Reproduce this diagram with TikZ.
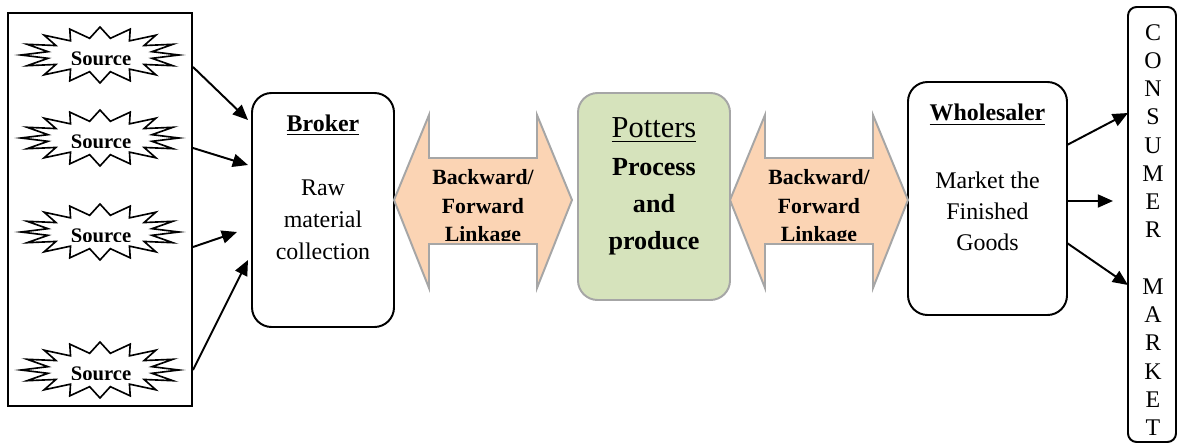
\documentclass[tikz,border=0pt]{standalone}
\usepackage{fontspec}
\setmainfont{Liberation Serif}
\usetikzlibrary{arrows.meta,positioning}

\definecolor{linkpeach}{RGB}{251,212,180}
\definecolor{potgreen}{RGB}{214,227,188}
\definecolor{rimgray}{RGB}{166,166,166}

\newcommand{\pxl}{0.46pt} % one pixel of the sketch

\tikzset{
  box/.style={draw, line width=0.9pt, rounded corners=9pt, fill=white},
  potbox/.style={draw=rimgray, line width=0.9pt, rounded corners=9pt, fill=potgreen},
  srctext/.style={inner sep=0pt, font=\bfseries\fontsize{9.5}{10}\selectfont},
  burst/.pic={
    \draw[line width=0.75pt] (79,0)
      \foreach \k [evaluate=\k as \rx using {mod(\k,2)==0 ? 79 : 53},
                   evaluate=\k as \ry using {mod(\k,2)==0 ? 28 : 17}] in {1,...,31}
        { -- ({\rx*cos(\k*11.25)},{\ry*sin(\k*11.25)}) } -- cycle;
  },
  linkarrow/.style={draw=rimgray, line width=0.9pt, fill=linkpeach},
  linktext/.style={align=center, font=\bfseries\fontsize{10}{13}\selectfont},
  arr/.style={-{Triangle[length=7pt,width=6pt]}, line width=0.9pt},
}

\begin{document}
\begin{tikzpicture}[x=\pxl,y=-\pxl]
  \useasboundingbox (0,0) rectangle (1177,444);

  %Sources
  \node[draw, line width=0.8pt, minimum width=184*\pxl, minimum height=393*\pxl] (frame) at (100,209.5) {};
  \foreach \sy [count=\i] in {55,138,232,370} {
    \pic at (100,\sy) {burst};
    \begin{scope}
      \clip (40,\sy-20) rectangle (160,\sy+9.5); % words cut at the foot
      \node[srctext] (s\i) at (101,\sy+4) {Source};
    \end{scope}
  }

  %Broker
  \node[box, minimum width=142*\pxl, minimum height=234*\pxl] (broker) at (323,210) {};
  \node[font=\bfseries\fontsize{11}{14.7}\selectfont] (brokerhd) at (323,125) {\underline{Broker}};
  \node[align=center, font=\fontsize{11}{14.7}\selectfont] (brokertx) at (323,220) {Raw\\material\\collection};

  %Potters
  \node[potbox, minimum width=152*\pxl, minimum height=207*\pxl] (potters) at (654,196.5) {};
  \node[font=\fontsize{14}{16}\selectfont] (pottershd) at (654,130) {\underline{Potters}};
  \node[align=center, font=\bfseries\fontsize{12}{17}\selectfont] (potterstx) at (654,207) {Process\\and\\produce};

  %Wholesaler
  \node[box, minimum width=159*\pxl, minimum height=233*\pxl] (whole) at (987.5,198.5) {};
  \node[font=\bfseries\fontsize{11}{14.3}\selectfont] (wholehd) at (987.5,115) {\underline{Wholesaler}};
  \node[align=center, font=\fontsize{11}{14.3}\selectfont] (wholetx) at (987.5,211) {Market the\\Finished\\Goods};

  %Consumer market
  \node[box, rounded corners=4pt, minimum width=48*\pxl, minimum height=435*\pxl] (market) at (1152,224.5) {};
  \node[align=center, font=\fontsize{11}{13}\selectfont] (markettx) at (1153,230)
    {C\\O\\N\\S\\U\\M\\E\\R\\ \\M\\A\\R\\K\\E\\T};

  %Linkage arrows
  \foreach \lx/\nm in {394/link1,730/link2} {
    \draw[linkarrow] (\lx,200) -- (\lx+35,115) -- (\lx+35,158) -- (\lx+143,158) -- (\lx+143,115)
      -- (\lx+178,200) -- (\lx+143,288) -- (\lx+143,244) -- (\lx+35,244) -- (\lx+35,288) -- cycle;
    \begin{scope}
      \clip (\lx+35,160) rectangle (\lx+143,240);
      \node[linktext] (\nm) at (\lx+89,208) {Backward/\\Forward\\Linkage};
    \end{scope}
  }

  %Arrows into the broker
  \coordinate (f1) at (193,67);  \coordinate (b1) at (248,120);
  \coordinate (f2) at (193,148); \coordinate (b2) at (248,165);
  \coordinate (f3) at (193,247); \coordinate (b3) at (237,232);
  \coordinate (f4) at (193,370); \coordinate (b4) at (248,260);
  \foreach \i in {1,...,4}
    \draw[arr] (f\i) -- (b\i);

  %Arrows out to the market
  \coordinate (w1) at (1067,145); \coordinate (m1) at (1128,113);
  \coordinate (w2) at (1067,201); \coordinate (m2) at (1113,201);
  \coordinate (w3) at (1067,243); \coordinate (m3) at (1128,285);
  \foreach \i in {1,2,3}
    \draw[arr] (w\i) -- (m\i);
\end{tikzpicture}
\end{document}
